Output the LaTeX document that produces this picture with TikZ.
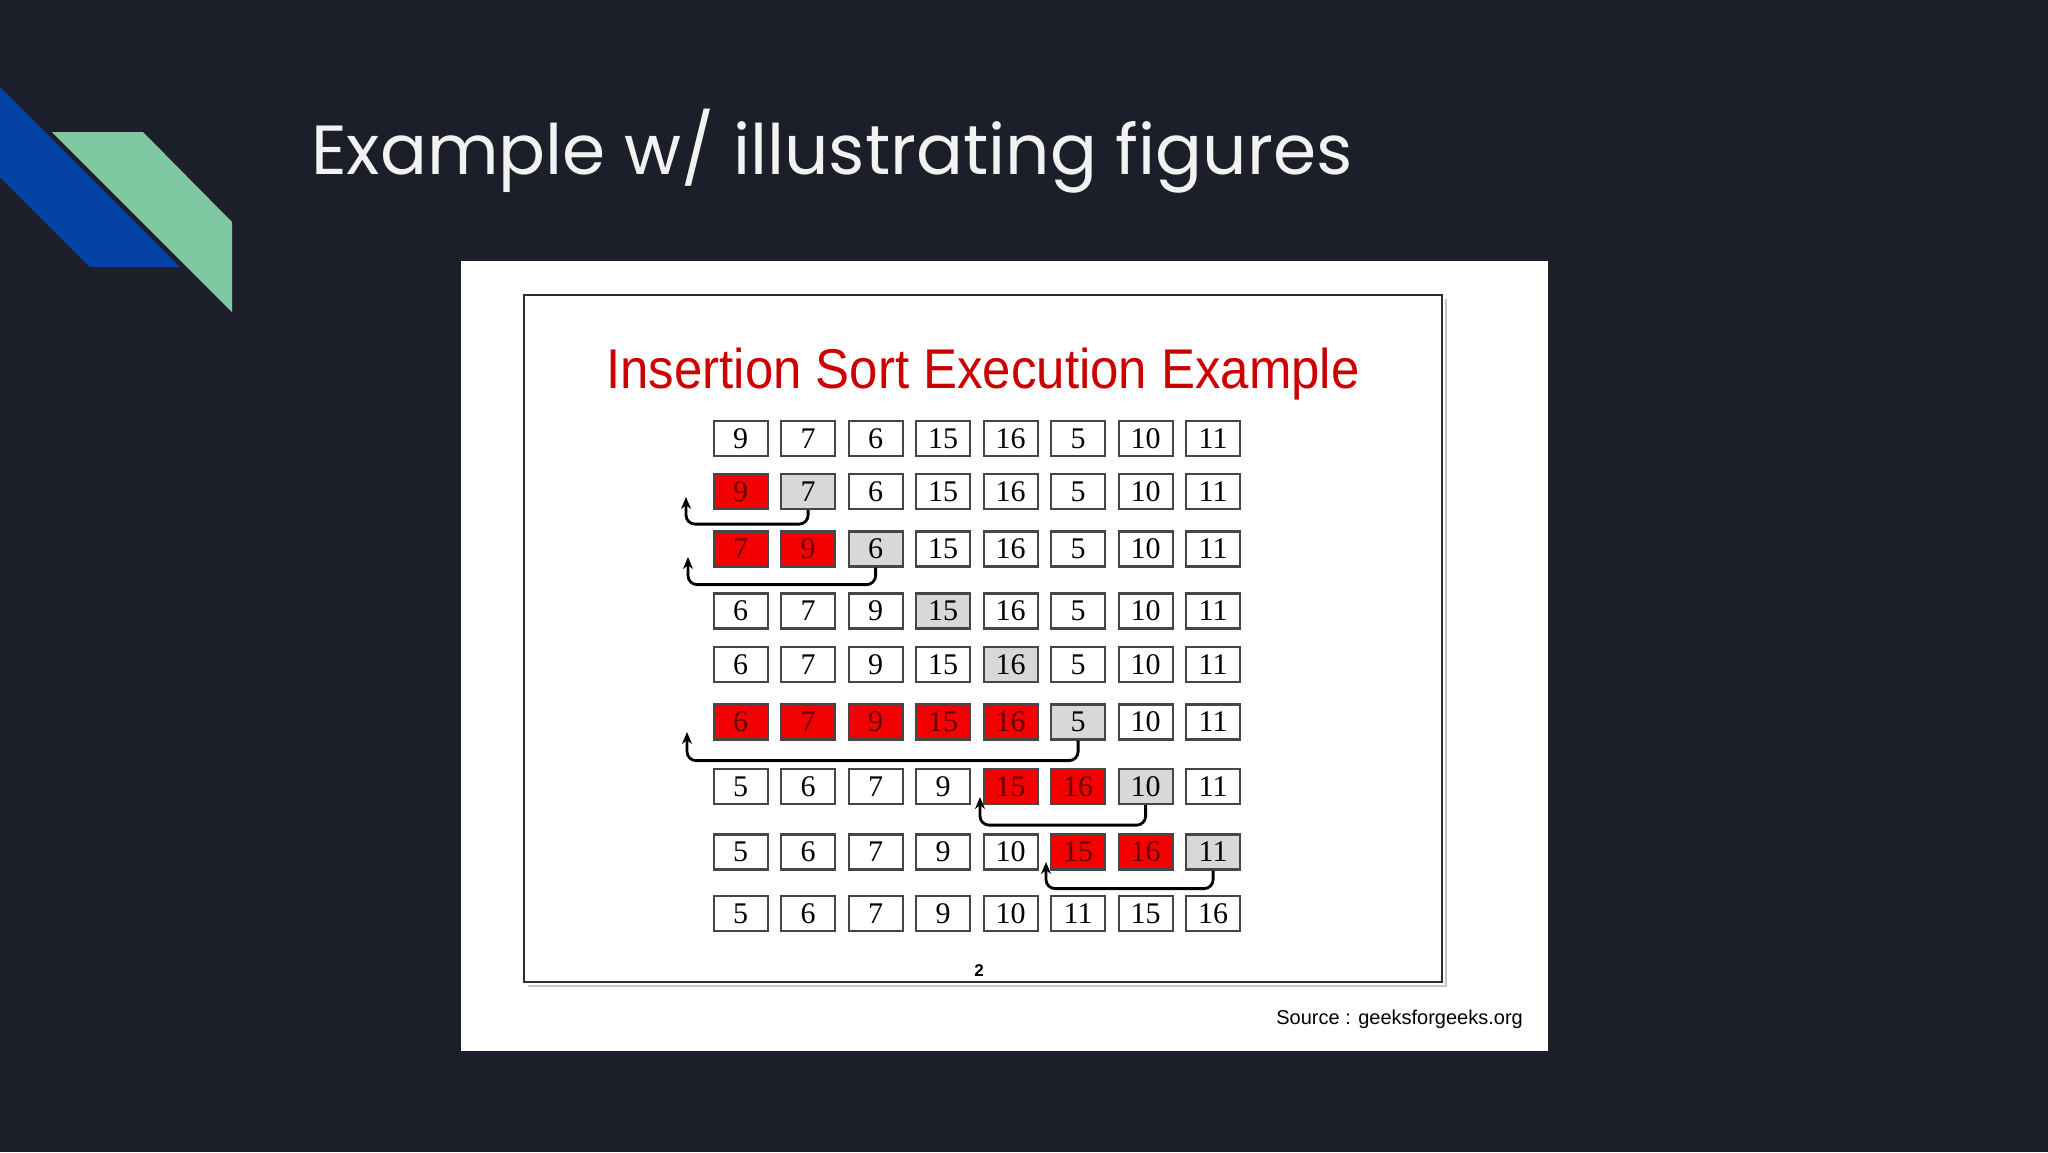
\documentclass[tikz,border=0pt]{standalone}
\usepackage{fontspec}
\setmainfont{Liberation Sans}
\newfontfamily\titlefont{Poppins}
\newfontfamily\narrowsans[FakeStretch=0.91]{Liberation Sans}
\newfontfamily\serifnum{Liberation Serif}
\usetikzlibrary{arrows.meta}
\definecolor{bg}{RGB}{28,31,41}
\definecolor{decoblue}{RGB}{5,66,168}
\definecolor{decogreen}{RGB}{128,200,162}
\definecolor{titlewhite}{RGB}{242,242,242}
\definecolor{sortred}{RGB}{204,0,0}
\definecolor{framegray}{RGB}{45,45,45}
\definecolor{cellborder}{RGB}{70,70,70}
\definecolor{cellred}{RGB}{243,0,0}
\definecolor{celltext}{RGB}{100,0,0}
\definecolor{cellgray}{RGB}{216,216,216}
\tikzset{
  cell/.style={draw=cellborder, line width=2.2pt, fill=white, minimum width=54pt,
    minimum height=35pt, inner sep=0pt, font=\serifnum\fontsize{30}{30}\selectfont},
  redcell/.style={cell, fill=cellred, text=celltext},
  graycell/.style={cell, fill=cellgray},
  back/.style={draw=black, line width=2.8pt, rounded corners=9pt,
    -{Stealth[length=12pt,width=10pt]}}
}
\begin{document}
\begin{tikzpicture}[x=1pt,y=-1pt]
\useasboundingbox (0,0) rectangle (2048,1152);
\fill[bg] (0,0) rectangle (2048,1152);
% decoration
\fill[decoblue] (0,87) -- (180,267) -- (90,267) -- (0,177) -- cycle;
\fill[decogreen] (52,132) -- (143,132) -- (232,222) -- (232,312) -- cycle;
% slide title
\node[anchor=base west, inner sep=0pt, text=titlewhite,
  font=\titlefont\fontsize{69.5}{80}\selectfont] (title) at (311,174) {Example w/ illustrating figures};
% white panel and frame
\fill[white] (461,261) rectangle (1548,1051);
\draw[gray!45, line width=2pt] (528,986) -- (1446,986) -- (1446,299);
\draw[framegray, line width=2.8pt] (524,295) rectangle (1442,982);
\node[anchor=base, inner sep=0pt, text=sortred,
  font=\narrowsans\fontsize{56}{60}\selectfont] (stitle) at (983,388) {Insertion Sort Execution Example};
% rows
\foreach \v/\s [count=\c] in {9/cell,7/cell,6/cell,15/cell,16/cell,5/cell,10/cell,11/cell}
  \node[\s] (r1c\c) at ({740.6+67.5*(\c-1)},438.5) {\v};
\foreach \v/\s [count=\c] in {9/redcell,7/graycell,6/cell,15/cell,16/cell,5/cell,10/cell,11/cell}
  \node[\s] (r2c\c) at ({740.6+67.5*(\c-1)},491.5) {\v};
\foreach \v/\s [count=\c] in {7/redcell,9/redcell,6/graycell,15/cell,16/cell,5/cell,10/cell,11/cell}
  \node[\s] (r3c\c) at ({740.6+67.5*(\c-1)},549) {\v};
\foreach \v/\s [count=\c] in {6/cell,7/cell,9/cell,15/graycell,16/cell,5/cell,10/cell,11/cell}
  \node[\s] (r4c\c) at ({740.6+67.5*(\c-1)},611) {\v};
\foreach \v/\s [count=\c] in {6/cell,7/cell,9/cell,15/cell,16/graycell,5/cell,10/cell,11/cell}
  \node[\s] (r5c\c) at ({740.6+67.5*(\c-1)},664.5) {\v};
\foreach \v/\s [count=\c] in {6/redcell,7/redcell,9/redcell,15/redcell,16/redcell,5/graycell,10/cell,11/cell}
  \node[\s] (r6c\c) at ({740.6+67.5*(\c-1)},722) {\v};
\foreach \v/\s [count=\c] in {5/cell,6/cell,7/cell,9/cell,15/redcell,16/redcell,10/graycell,11/cell}
  \node[\s] (r7c\c) at ({740.6+67.5*(\c-1)},786.5) {\v};
\foreach \v/\s [count=\c] in {5/cell,6/cell,7/cell,9/cell,10/cell,15/redcell,16/redcell,11/graycell}
  \node[\s] (r8c\c) at ({740.6+67.5*(\c-1)},852) {\v};
\foreach \v/\s [count=\c] in {5/cell,6/cell,7/cell,9/cell,10/cell,11/cell,15/cell,16/cell}
  \node[\s] (r9c\c) at ({740.6+67.5*(\c-1)},913.5) {\v};
% arrows
\coordinate (t2) at (686,497);
\coordinate (t3) at (688,557);
\coordinate (t6) at (687,732);
\coordinate (t7) at (980,797);
\coordinate (t8) at (1046,862);
\draw[back] (r2c2.south) -- ++(0,14) -| (t2);
\draw[back] (r3c3.south) -- ++(0,17) -| (t3);
\draw[back] (r6c6.south) -- ++(0,20) -| (t6);
\draw[back] (r7c7.south) -- ++(0,20) -| (t7);
\draw[back] (r8c8.south) -- ++(0,18) -| (t8);
% page number and source
\node[inner sep=0pt, font=\bfseries\fontsize{17}{17}\selectfont] (pg) at (979,971) {2};
\node[anchor=east, inner sep=0pt, font=\fontsize{20}{20}\selectfont] (src) at (1523,1019) {Source : geeksforgeeks.org};
\end{tikzpicture}
\end{document}
